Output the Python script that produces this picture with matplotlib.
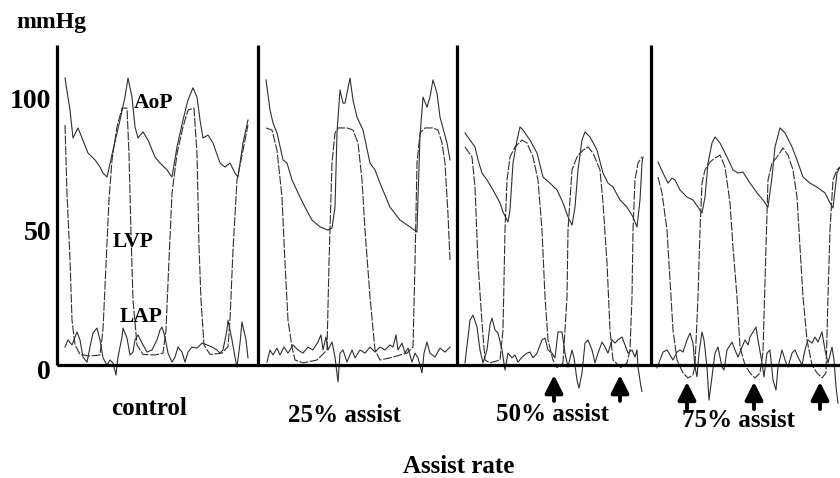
import numpy as np
import matplotlib
matplotlib.use("Agg")
import matplotlib.pyplot as plt

# time positions (trace units) and pressures (mmHg)
# --- control ---
c_aop_t = [65, 70, 73, 78, 82, 88, 95, 100, 103, 107, 113, 120, 125, 128, 132, 135, 138, 143, 148, 155,
           160, 167, 172, 177, 183, 188, 193, 197, 200, 203, 208, 213, 220, 225, 230, 235, 238, 243, 248]
c_aop_p = [108.7, 96.6, 86, 89.8, 86, 80.3, 77.7, 75, 72.7, 71.2, 81.4, 92.8, 101.5, 108.7, 101.5, 90.2, 86, 88.3, 85.2, 78.8,
           76.5, 73.9, 71.2, 82.6, 92.8, 100.4, 105, 101.5, 92.8, 86, 87.1, 84.1, 76.5, 75, 76.5, 72.7, 71.2, 84.1, 92.8]
c_lvp_t = [65, 67, 70, 72, 75, 80, 90, 100, 103, 106, 109, 112, 117, 122, 127, 129, 131, 133, 137, 143,
           155, 163, 166, 169, 172, 177, 183, 188, 194, 197, 199, 201, 204, 210, 222, 228, 230, 233, 237, 243, 248]
c_lvp_p = [90.9, 65, 40, 17, 7.6, 4, 3.4, 3.8, 13.3, 38, 62.5, 77.7, 90.2, 97.3, 97.3, 80, 50, 24.6, 7.6, 4,
           3.8, 4.5, 13.3, 40, 65, 80, 90.2, 96.6, 97.3, 80, 45, 24.6, 7.6, 4, 4.5, 7, 17, 43.6, 70.1, 81.4, 90.9]
c_lap_t = [65, 68, 72, 77, 80, 83, 87, 90, 93, 97, 100, 103, 107, 110, 113, 116, 118, 122, 123, 127,
           130, 133, 135, 138, 142, 147, 152, 157, 160, 162, 165, 168, 172, 175, 178, 182, 185, 188, 192, 197,
           202, 207, 212, 217, 220, 223, 227, 228, 232, 235, 237, 240, 242, 246, 248]
c_lap_p = [6.8, 9.5, 7.6, 12.5, 9.5, 3, 1.1, 6.8, 12.1, 14, 9.5, 2.7, 0, 1.9, 0.8, -3.8, 3, 10.6, 14, 10.2,
           3.8, 4.9, 9.5, 11.4, 8.3, 4.9, 5.7, 9.5, 13.3, 14.4, 10.6, 4.5, 1.1, 3, 6.8, 4.9, 1.1, 4.9, 6.8, 6.4,
           8.3, 7.6, 6.8, 5.7, 4.5, 5.7, 13.3, 17, 9.5, 3, -0.8, 8.3, 16.3, 9.5, 2.7]

# --- 25% assist ---
a25_aop_t = [266, 270, 273, 277, 283, 287, 292, 300, 305, 312, 320, 328, 332, 335, 337, 340, 343, 345, 350, 353,
             357, 363, 370, 375, 380, 390, 400, 410, 417, 418, 420, 423, 427, 430, 433, 437, 440, 447, 450]
a25_aop_p = [108, 96.6, 91.7, 87.9, 77.7, 76.5, 70.1, 63.6, 59.8, 54.9, 52.3, 51.1, 51.9, 59.8, 87.9, 104.2, 99.2, 99.2, 108.7, 100.4,
             93.9, 89, 76.5, 73.9, 68.9, 59.8, 54.9, 52.3, 50.4, 63.6, 86.4, 101.5, 97.7, 101.5, 108, 103, 93.9, 84.1, 77.7]
a25_lvp_t = [266, 272, 277, 282, 285, 288, 292, 295, 303, 317, 327, 329, 332, 335, 338, 347, 353, 358, 362, 365,
             370, 375, 380, 390, 407, 413, 415, 417, 420, 425, 433, 438, 442, 445, 448, 450]
a25_lvp_p = [89.8, 89, 81.4, 63.6, 38.6, 17, 6.8, 1.9, 0.8, 1.9, 5.7, 38.6, 76.5, 87.9, 89.8, 89.8, 89, 84.1, 70.1, 51.1,
             25.8, 5.7, 1.9, 2.7, 4.5, 6.8, 38.6, 76.5, 87.9, 89.8, 89.8, 89, 84.1, 76.5, 57, 39.8]
a25_lap_t = [267, 270, 273, 277, 280, 284, 288, 293, 298, 303, 308, 313, 318, 321, 323, 326, 328, 332, 335, 338,
             340, 343, 347, 352, 355, 360, 365, 370, 375, 380, 385, 390, 393, 396, 398, 402, 405, 408, 412, 415,
             418, 422, 424, 427, 430, 435, 440, 445, 450]
a25_lap_p = [1.1, 5.7, 3.8, 6.4, 3.8, 6.8, 4.5, 7.6, 5.7, 4.5, 6.8, 5.7, 8.7, 11.4, 5.7, 10.6, 5.7, 8.7, 3, -6.4,
             4.5, 5.7, 1.1, 5.7, 2.7, 5.7, 4.5, 6.8, 4.9, 6.8, 5.7, 7.6, 6.8, 11.4, 5.7, 8.3, 4.5, 6.4, 1.1, 4.5,
             2.7, -3, 4.5, 8.7, 4.5, 3, 6.4, 4.9, 6.8]

# --- 50% assist ---
a50_aop_t = [465, 470, 475, 478, 482, 487, 493, 500, 503, 507, 508, 510, 513, 517, 520, 523, 530, 537, 543, 550,
             557, 563, 568, 572, 575, 578, 582, 585, 590, 597, 603, 608, 613, 620, 627, 633, 637, 640, 642, 643]
a50_aop_p = [87.9, 85.2, 82.6, 77.7, 72.7, 70.1, 66.3, 61.4, 58, 54.9, 54.2, 58.7, 76.5, 85.2, 90.2, 89, 85.2, 80.3, 71.2, 68.9,
             66.3, 61.4, 56.1, 53, 59.8, 73.9, 85.2, 88.3, 86.4, 81.4, 72.7, 68.9, 67.4, 62.5, 59.8, 56.1, 52.3, 62.5, 76.5, 78.8]
a50_lvp_t = [465, 472, 475, 478, 482, 485, 490, 500, 503, 505, 507, 510, 515, 522, 527, 533, 538, 542, 545, 548,
             553, 557, 563, 567, 568, 572, 577, 583, 588, 593, 600, 603, 607, 610, 613, 621, 627, 630, 632, 633,
             635, 638, 642]
a50_lvp_p = [82.6, 78.8, 67.4, 38.6, 16, 1.9, 0.8, 1.9, 13.3, 51.1, 70.1, 78.8, 82.6, 85.2, 84.1, 78.8, 70.1, 51.1, 25.8, 9.5,
             1.9, -1, 0.8, 25.8, 51.1, 73.9, 78.8, 81.4, 82.6, 80.3, 73.9, 61.4, 38.6, 13.3, 1.9, -1, 0.8, 5.7, 25.8, 51.1,
             70.1, 76.5, 78.8]
a50_lap_t = [465, 470, 473, 477, 480, 483, 487, 490, 492, 495, 498, 502, 505, 508, 512, 515, 518, 522, 527, 530,
             533, 537, 542, 545, 548, 552, 555, 558, 562, 565, 568, 572, 574, 577, 579, 582, 585, 588, 592, 595,
             598, 602, 605, 608, 612, 615, 618, 622, 625, 628, 632, 635, 637, 638, 641, 642]
a50_lap_p = [0.8, 17, 18.9, 14.4, 5.7, 0.8, 5.7, 15.2, 17.8, 13.3, 12.1, 5.7, -1.9, 4.5, 2.7, 3.8, 1.1, 3, 4.5, 4.9,
             2.7, 4.5, 9.5, 10.2, 5.7, 4.5, 2.7, 12.5, 12.5, 4.5, -0.8, 5.7, 2.7, -5.7, -8.7, -3, 8.3, 9.5, 5.7, 0.8,
             4.5, 8.7, 6.8, 4.5, 9.5, 8.3, 9.5, 10.6, 7.6, 4.5, 5.7, 3, 5.7, -0.8, -8.3, -10]

# --- 75% assist ---
a75_aop_t = [658, 663, 668, 672, 675, 680, 687, 693, 698, 702, 705, 708, 712, 715, 720, 727, 733, 738, 743, 750,
             757, 763, 768, 772, 775, 780, 785, 792, 797, 803, 810, 817, 825, 830, 833, 837, 840]
a75_aop_p = [76.9, 72.7, 68.9, 70.8, 70.1, 66.3, 63.6, 62.5, 59.8, 57.6, 63.6, 76.5, 84.1, 86.4, 84.1, 78.8, 73.9, 72.7, 73.1, 68.9,
             65.2, 62.5, 59.8, 71.2, 82.6, 89.8, 87.9, 82.6, 77.7, 71.2, 68.9, 67.4, 65.2, 61.4, 59.5, 72.7, 75]
a75_lvp_t = [658, 662, 667, 670, 673, 677, 683, 688, 693, 695, 698, 700, 702, 705, 710, 715, 720, 725, 730, 733,
             737, 740, 745, 750, 755, 760, 763, 766, 768, 772, 777, 783, 788, 793, 797, 800, 803, 807, 812, 817,
             822, 826, 828, 830, 833, 837, 840]
a75_lvp_p = [71.2, 65.2, 51.1, 32.2, 13.3, 1.9, -3, -4.9, -3.8, 0, 25.8, 51.1, 68.9, 73.9, 76.9, 78.4, 79.5, 75, 61.4, 44.7,
             25.8, 6.8, 0, -3, -4.9, -3, 5, 44.7, 70.1, 76.5, 78.8, 82.2, 79.5, 73.9, 63.6, 44.7, 25.8, 9.5, 0, -3,
             -4.9, -3, 25.8, 51.1, 70.1, 73.9, 75]
a75_lap_t = [657, 660, 663, 667, 670, 673, 677, 680, 683, 687, 690, 693, 695, 697, 699, 702, 704, 707, 709, 712,
             715, 718, 722, 724, 727, 732, 735, 738, 742, 745, 748, 750, 753, 756, 758, 762, 764, 767, 770, 773,
             776, 778, 782, 785, 788, 792, 795, 798, 802, 805, 808, 812, 815, 818, 822, 825, 828, 832, 834, 836, 838]
a75_lap_p = [-1.1, 1.9, 4.9, 5.7, 3.8, 1.9, 4.9, 5.7, 4.9, 9.5, 12.1, 8.3, -0.8, -4.5, 4.5, 12.5, 9.5, -0.8, -13.3, -4.5,
             4.5, 6.8, -0.8, -1.9, 5.7, 8.7, 5.7, 3, 6.8, 9.5, 7.6, 10.6, 12.5, 14.4, 9.5, 0.8, -4.5, 4.5, 5.7, -5.7,
             -9.5, -0.8, 5.7, 1.9, -0.8, 4.5, 5.7, 3, 0, 5.7, 9.5, 8.3, 10.6, 8.7, 12.5, 5.7, 0.8, 6.8, 1.9, -8.3, -14.4]

panel_edges = [57, 258, 457, 651]
panel_names = ["control", "25% assist", "50% assist", "75% assist"]
panel_label_x = [149, 344, 552, 738]
panel_label_y = [-16.3, -19.3, -18.6, -21.2]
arrow_x = [554, 620, 687, 754, 820]
arrow_tail = [-13.6, -13.6, -16.7, -16.7, -16.7]
arrow_tip = [-3.8, -3.8, -6.4, -6.4, -6.4]
yticks = [100, 50, 0]
ytick_pos = [100, 50, -3]

serif = {"family": "Liberation Serif", "weight": "bold"}

fig = plt.figure(figsize=(8.4, 4.78), dpi=100)
ax = fig.add_axes([0, 0, 1, 1])
ax.set_xlim(0, 840)
ax.set_ylim(-42.8, 138.26)
ax.axis("off")

trace = dict(color="#303030", lw=0.8)
for t, p in [(c_aop_t, c_aop_p), (a25_aop_t, a25_aop_p), (a50_aop_t, a50_aop_p), (a75_aop_t, a75_aop_p),
             (c_lap_t, c_lap_p), (a25_lap_t, a25_lap_p), (a50_lap_t, a50_lap_p), (a75_lap_t, a75_lap_p)]:
    ax.plot(t, p, **trace)
for t, p in [(c_lvp_t, c_lvp_p), (a25_lvp_t, a25_lvp_p), (a50_lvp_t, a50_lvp_p), (a75_lvp_t, a75_lvp_p)]:
    ax.plot(t, p, dashes=(8, 1.5), **trace)

# panel frames
ax.vlines(panel_edges, 0, 121.2, color="black", lw=2.3)
ax.hlines(0, panel_edges[0], 840, color="black", lw=2.3)

for v, pos in zip(yticks, ytick_pos):
    ax.text(51, pos, str(v), ha="right", va="center", fontsize=20, **serif)
ax.text(51, 129.9, "mmHg", ha="center", va="center", fontsize=17, **serif)

ax.text(154, 99.2, "AoP", ha="center", va="center", fontsize=15.5, **serif)
ax.text(133, 46.6, "LVP", ha="center", va="center", fontsize=15.5, **serif)
ax.text(141, 18.2, "LAP", ha="center", va="center", fontsize=15.5, **serif)

for name, x, y in zip(panel_names, panel_label_x, panel_label_y):
    ax.text(x, y, name, ha="center", va="center", fontsize=18, **serif)
ax.text(459, -38.3, "Assist rate", ha="center", va="center", fontsize=18, **serif)

for x, y0, y1 in zip(arrow_x, arrow_tail, arrow_tip):
    ax.annotate("", xy=(x, y1), xytext=(x, y0),
                arrowprops=dict(arrowstyle="-|>,head_length=0.6,head_width=0.3",
                                color="black", lw=2.8, mutation_scale=18, shrinkA=0, shrinkB=0))

fig.savefig("out.png", dpi=100)
